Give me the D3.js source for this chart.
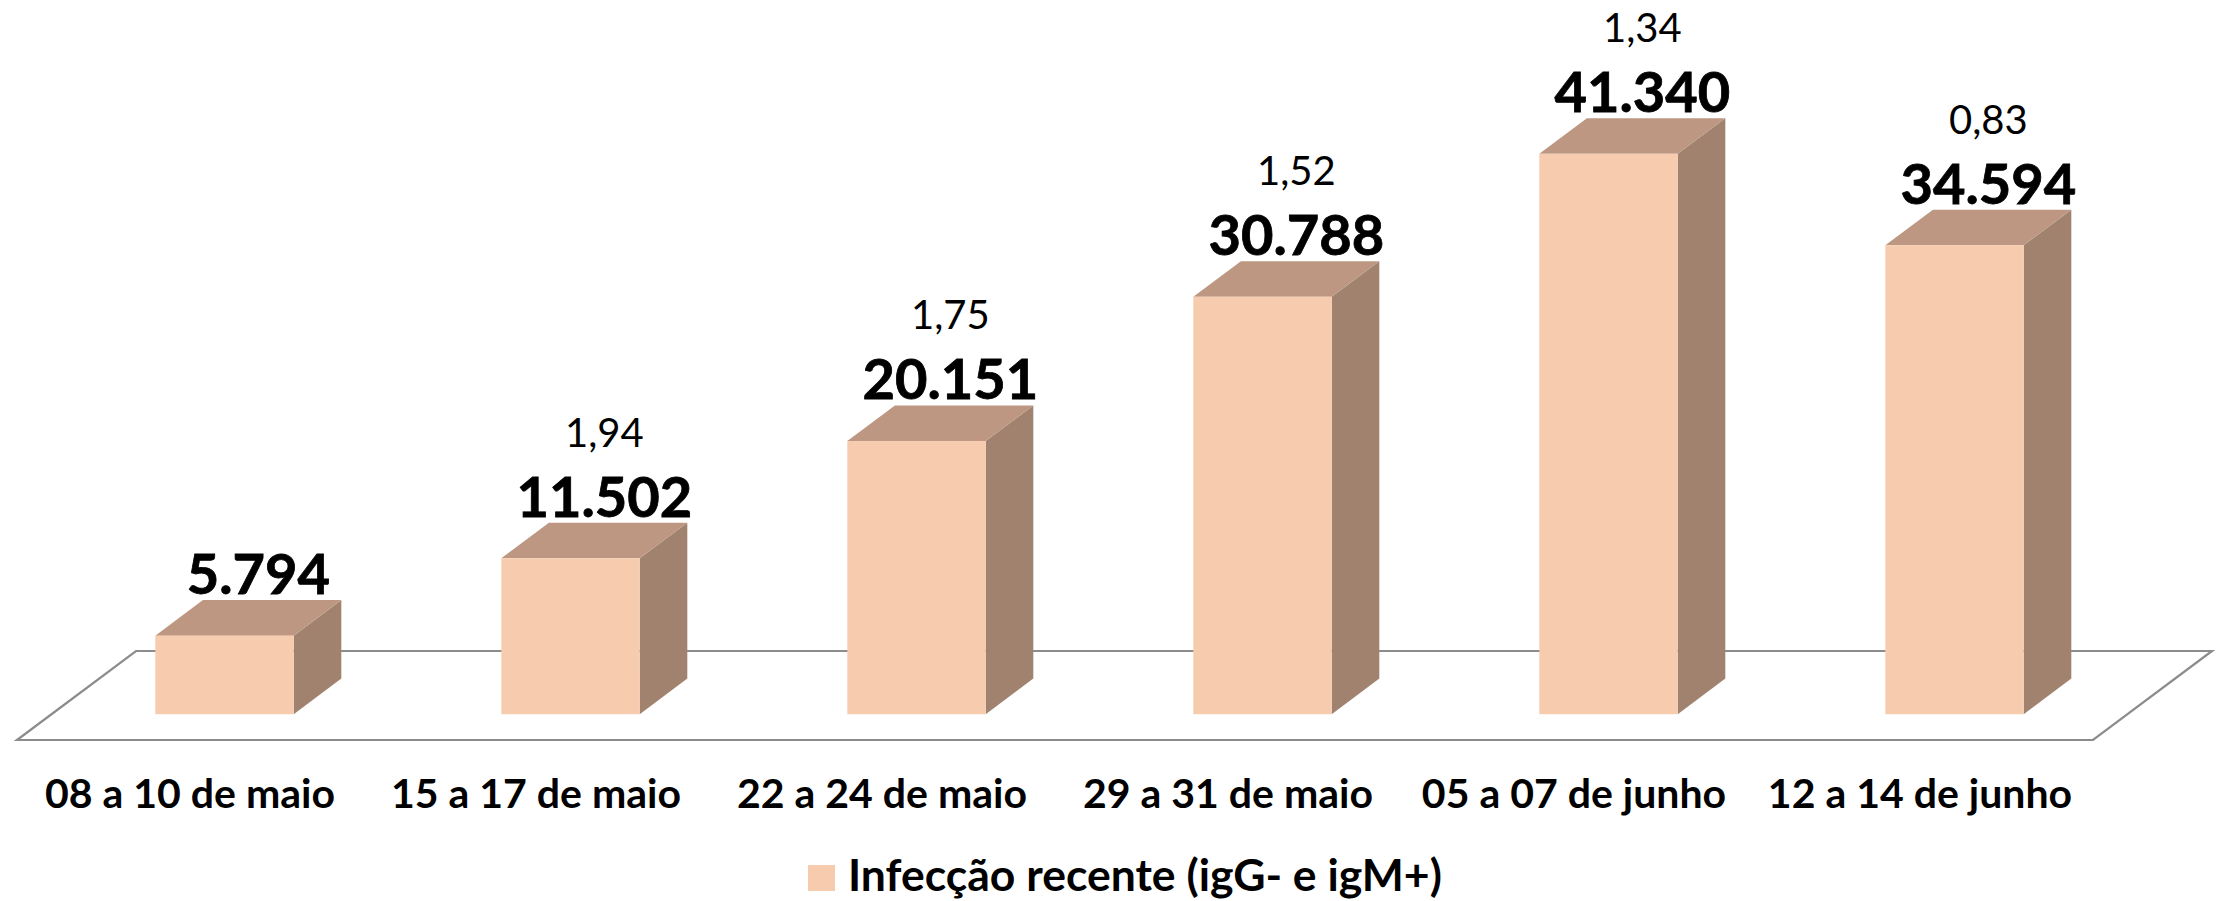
<!DOCTYPE html>
<html><head><meta charset="utf-8">
<script src="https://cdn.jsdelivr.net/npm/d3@7"></script>
<style>html,body{margin:0;padding:0;background:#fff;overflow:hidden;} svg{display:block;}</style>
</head><body>
<script>
// ---- data ----
const categories = ["08 a 10 de maio", "15 a 17 de maio", "22 a 24 de maio", "29 a 31 de maio", "05 a 07 de junho", "12 a 14 de junho"];
const values = [5794, 11502, 20151, 30788, 41340, 34594];
const rates = [null, 1.94, 1.75, 1.52, 1.34, 0.83];
const seriesName = "Infecção recente (igG- e igM+)";

// ---- layout ----
const W = 2219, H = 901;
const floorY = 740, floorX0 = 17, floorX1 = 2093;
const depth = {dx: 119, dy: -89};      // full floor depth vector
const t0 = 0.29, t1 = 0.69;            // bar depth span within floor
const colFront = "#F7CBAE", colTop = "#BD9782", colSide = "#A0826E", colFloor = "#8C8C8C";
const font = "Lato, 'Open Sans', sans-serif";

const locale = d3.formatLocale({decimal: ",", thousands: ".", grouping: [3], currency: ["R$", ""]});
const fmtVal = locale.format(",d");
const fmtRate = locale.format(".2f");

const svg = d3.select("body").append("svg").attr("width", W).attr("height", H);

const x = d3.scaleBand().domain(categories).range([floorX0, floorX1]).paddingInner(0.6).paddingOuter(0.3);
const h = d3.scaleLinear().domain([0, 45000]).range([0, 610]);

// floor
const fl = [[floorX0, floorY], [floorX0 + depth.dx, floorY + depth.dy], [floorX1 + depth.dx, floorY + depth.dy], [floorX1, floorY]];
svg.append("path").attr("d", d3.line()(fl) + "Z").attr("fill", "none").attr("stroke", colFloor).attr("stroke-width", 2.2);

const data = categories.map((c, i) => ({c, v: values[i], r: rates[i]}));
const fx = t0 * depth.dx, fy = t0 * depth.dy;
const bdx = (t1 - t0) * depth.dx, bdy = (t1 - t0) * depth.dy;
const bw = x.bandwidth();

const g = svg.selectAll("g.bar").data(data).join("g").attr("class", "bar");
g.each(function(d) {
  const sel = d3.select(this);
  const x0 = x(d.c) + fx, x1 = x0 + bw;
  const yb = floorY + fy, yt = yb - h(d.v);
  // side face
  sel.append("path").attr("d", d3.line()([[x1, yt], [x1 + bdx, yt + bdy], [x1 + bdx, yb + bdy], [x1, yb]]) + "Z").attr("fill", colSide);
  // top face
  sel.append("path").attr("d", d3.line()([[x0, yt], [x0 + bdx, yt + bdy], [x1 + bdx, yt + bdy], [x1, yt]]) + "Z").attr("fill", colTop);
  // front face
  sel.append("rect").attr("x", x0).attr("y", yt).attr("width", bw).attr("height", yb - yt).attr("fill", colFront);
  const lx = x0 + bw / 2 + bdx / 2 + 10;
  const ly = yt + bdy - 6;
  sel.append("text").attr("x", lx).attr("y", ly).attr("text-anchor", "middle")
    .attr("font-family", font).attr("font-weight", 700).attr("font-size", 56).attr("fill", "#000")
    .attr("stroke", "#000").attr("stroke-width", 0.8)
    .text(fmtVal(d.v));
  if (d.r != null) {
    sel.append("text").attr("x", lx).attr("y", ly - 70).attr("text-anchor", "middle")
      .attr("font-family", font).attr("font-weight", 400).attr("font-size", 40).attr("fill", "#000")
      .text(fmtRate(d.r));
  }
});

// category axis labels
svg.append("g").selectAll("text").data(categories).join("text")
  .attr("x", d => x(d) + bw / 2).attr("y", 808).attr("text-anchor", "middle")
  .attr("font-family", font).attr("font-weight", 700).attr("font-size", 41).attr("fill", "#000")
  .text(d => d);

// legend
const lg = svg.append("g");
lg.append("rect").attr("x", 808).attr("y", 865).attr("width", 27).attr("height", 26).attr("fill", colFront);
lg.append("text").attr("x", 848).attr("y", 891)
  .attr("font-family", font).attr("font-weight", 700).attr("font-size", 44.5).attr("fill", "#000")
  .text(seriesName);
</script>
</body></html>
